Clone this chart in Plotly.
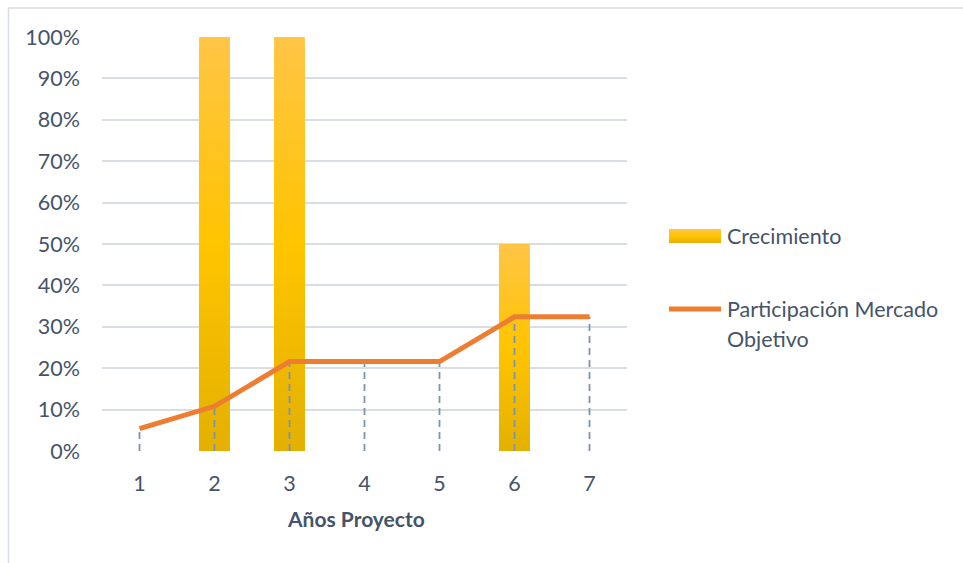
import plotly.graph_objects as go

# ---- data ----
years = [1, 2, 3, 4, 5, 6, 7]
crecimiento = [0.0, 1.0, 1.0, 0.0, 0.0, 0.5, 0.0]
participacion = [0.054, 0.108, 0.216, 0.216, 0.216, 0.324, 0.324]
y_ticks = [0, 0.1, 0.2, 0.3, 0.4, 0.5, 0.6, 0.7, 0.8, 0.9, 1.0]
x_title = "Años Proyecto"
series_names = ["Crecimiento", "Participación Mercado", "Objetivo"]

W, H = 963, 563
L, R, T, B = 102, 336, 37, 112
PW, PH = W - L - R, H - T - B

TEXT = "#44546A"
GRID = "#D9DEE5"
FONT = "Lato"
FS = 21.5


def px_x(p):
    return (p - L) / PW


def px_y(p):
    return (H - B - p) / PH


def grad(f):
    # f: 0 bottom -> 1 top
    bottom = (228, 177, 0)
    mid = (255, 196, 0)
    top = (255, 197, 70)
    if f < 0.5:
        a, b, t = bottom, mid, f / 0.5
    else:
        a, b, t = mid, top, (f - 0.5) / 0.5
    c = [round(a[i] + (b[i] - a[i]) * t) for i in range(3)]
    return f"rgb({c[0]},{c[1]},{c[2]})"


fig = go.Figure()

N = 40
for k in range(N, 0, -1):
    fig.add_trace(go.Bar(
        x=years,
        y=[v * k / N for v in crecimiento],
        width=0.41,
        marker=dict(color=grad((k - 0.5) / N), line=dict(width=0)),
        showlegend=False,
        hoverinfo="skip",
    ))

# drop lines
dx, dy = [], []
for xv, yv in zip(years, participacion):
    dx += [xv, xv, None]
    dy += [0, yv, None]
fig.add_trace(go.Scatter(
    x=dx, y=dy, mode="lines",
    line=dict(color="#7F93AD", width=1.8, dash="7px,5px"),
    showlegend=False, hoverinfo="skip",
))

fig.add_trace(go.Scatter(
    x=years, y=participacion, mode="lines",
    line=dict(color="#ED7D31", width=5),
    name=series_names[1],
    showlegend=False,
))

shapes = []
# chart border (top and left visible)
shapes.append(dict(type="rect", xref="paper", yref="paper",
                   x0=px_x(8.5), x1=px_x(975), y0=px_y(580), y1=px_y(8),
                   line=dict(color=GRID, width=1.5), layer="below"))
# legend bar swatch with gradient (layered, no seams)
NS = 14
y_top, y_bot = 229, 243
for i in range(NS, 0, -1):
    y1 = y_bot - (y_bot - y_top) * i / NS
    shapes.append(dict(type="rect", xref="paper", yref="paper",
                       x0=px_x(669), x1=px_x(721), y0=px_y(y_bot), y1=px_y(y1),
                       fillcolor=grad((i - 0.5) / NS), line=dict(width=0)))
# legend line swatch
shapes.append(dict(type="line", xref="paper", yref="paper",
                   x0=px_x(669), x1=px_x(721), y0=px_y(309), y1=px_y(309),
                   line=dict(color="#ED7D31", width=5)))

annotations = [
    dict(text=series_names[0], xref="paper", yref="paper", x=px_x(725), y=px_y(236),
         xanchor="left", yanchor="middle", showarrow=False,
         font=dict(family=FONT, size=FS, color=TEXT)),
    dict(text=series_names[1], xref="paper", yref="paper", x=px_x(725), y=px_y(309),
         xanchor="left", yanchor="middle", showarrow=False,
         font=dict(family=FONT, size=FS, color=TEXT)),
    dict(text=series_names[2], xref="paper", yref="paper", x=px_x(725), y=px_y(339),
         xanchor="left", yanchor="middle", showarrow=False,
         font=dict(family=FONT, size=FS, color=TEXT)),
    dict(text="<b>" + x_title + "</b>", xref="paper", yref="paper", x=px_x(356), y=px_y(518),
         xanchor="center", yanchor="middle", showarrow=False,
         font=dict(family=FONT, size=21, color=TEXT)),
]

fig.update_layout(
    width=W, height=H,
    margin=dict(l=L, r=R, t=T, b=B, pad=0),
    paper_bgcolor="white", plot_bgcolor="white",
    barmode="overlay",
    showlegend=False,
    font=dict(family=FONT, size=FS, color=TEXT),
    shapes=shapes,
    annotations=annotations,
    xaxis=dict(range=[0.5, 7.5], tickvals=years, ticktext=[str(v) for v in years],
               showgrid=False, zeroline=False, showline=False, ticks="",
               ticklabelstandoff=17,
               tickfont=dict(family=FONT, size=FS, color=TEXT)),
    yaxis=dict(range=[0, 1], tickvals=y_ticks, tickformat=".0%",
               showgrid=True, gridcolor=GRID, gridwidth=1.5,
               zeroline=False, showline=False, ticks="",
               ticklabelstandoff=21,
               tickfont=dict(family=FONT, size=FS, color=TEXT)),
)

fig.write_html("out.html")
